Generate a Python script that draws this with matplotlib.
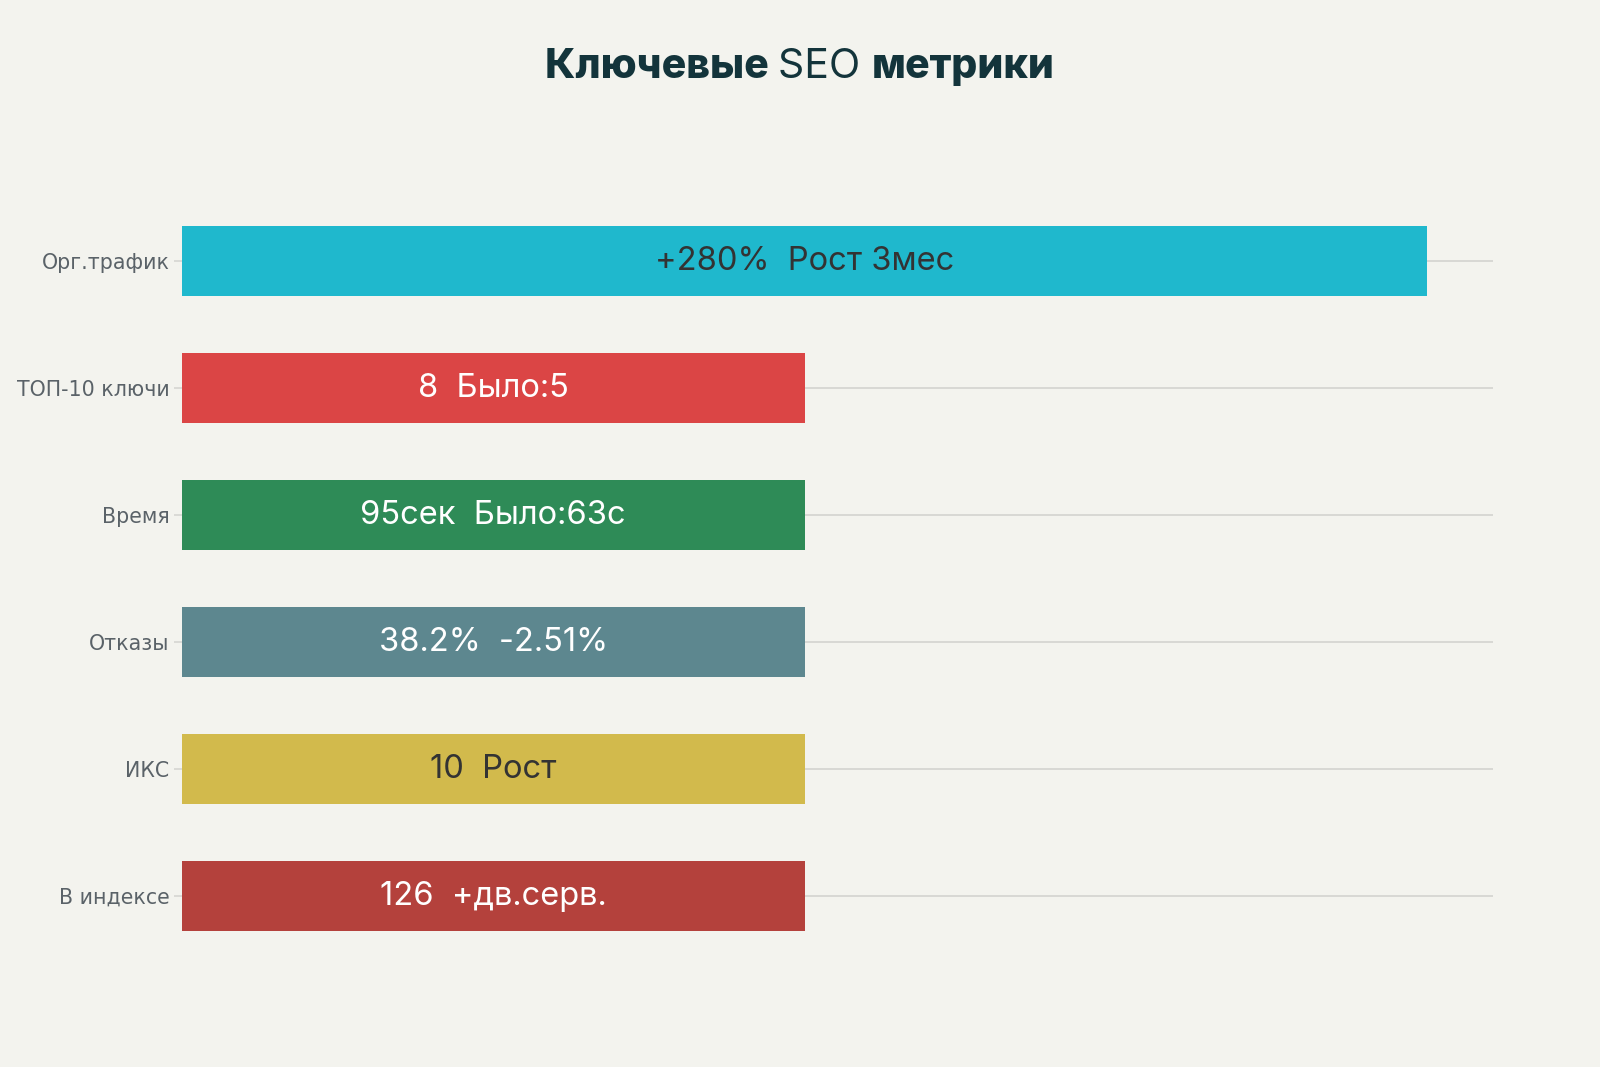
import matplotlib
matplotlib.use("Agg")
import matplotlib.pyplot as plt

categories = ["Орг.трафик", "ТОП-10 ключи", "Время", "Отказы", "ИКС", "В индексе"]
values = [2, 1, 1, 1, 1, 1]
bar_labels = ["+280%  Рост 3мес", "8  Было:5", "95сек  Было:63с", "38.2%  -2.51%", "10  Рост", "126  +дв.серв."]
colors = ["#1FB8CD", "#DB4545", "#2E8B57", "#5D878F", "#D2BA4C", "#B4413C"]
text_colors = ["#333333", "#ffffff", "#ffffff", "#ffffff", "#333333", "#ffffff"]

bg = "#F3F3EE"
fig = plt.figure(figsize=(16, 10.67), dpi=100, facecolor=bg)
ax = fig.add_axes([0.11375, 0.1007, 0.8194, 0.7142])
ax.set_facecolor(bg)

y = list(range(len(categories)))
ax.barh(y, values, height=0.55, color=colors, zorder=3)
for yi, v, lab, tc in zip(y, values, bar_labels, text_colors):
    ax.text(v / 2, yi, lab, ha="center", va="center", color=tc,
            fontsize=23.5, family=["Inter", "DejaVu Sans"], zorder=4)

ax.set_xlim(0, 2.106)
ax.set_ylim(len(categories) - 0.5, -0.5)
ax.set_yticks(y)
ax.set_yticklabels(categories, fontsize=14.8, color="#5a6268", family=["DejaVu Sans"])
ax.tick_params(axis="y", length=6, width=1.2, color="#d6d6d2", pad=3)
ax.set_xticks([])
ax.yaxis.grid(True, color="#d6d6d2", linewidth=1.3, zorder=0)
for s in ax.spines.values():
    s.set_visible(False)

# Title with mixed weights
tcol = "#13343b"
fs = 29.5
ty = 0.927
t1 = fig.text(0.5, ty, "Ключевые ", fontsize=fs, fontweight="heavy", color=tcol,
              family=["Inter", "DejaVu Sans"], ha="left", va="baseline")
t2 = fig.text(0.5, ty, "SEO ", fontsize=fs, fontweight="normal", color=tcol,
              family=["Inter", "DejaVu Sans"], ha="left", va="baseline")
t3 = fig.text(0.5, ty, "метрики", fontsize=fs, fontweight="heavy", color=tcol,
              family=["Inter", "DejaVu Sans"], ha="left", va="baseline")
fig.canvas.draw()
r = fig.canvas.get_renderer()
w1 = t1.get_window_extent(r).width
w2 = t2.get_window_extent(r).width
w3 = t3.get_window_extent(r).width
W = fig.bbox.width
total = w1 + w2 + w3
x0 = W / 2 - total / 2
t1.set_x(x0 / W)
t2.set_x((x0 + w1) / W)
t3.set_x((x0 + w1 + w2) / W)

fig.savefig("out.png", dpi=100, facecolor=bg)
